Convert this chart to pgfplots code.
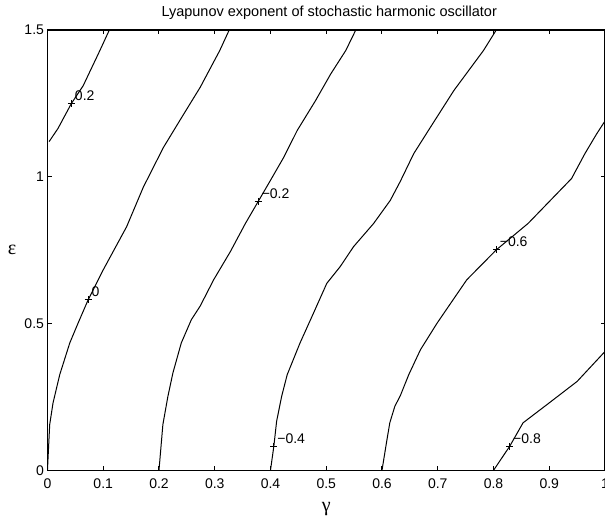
\documentclass[border=0pt]{standalone}
\usepackage{pgfplots}
\pgfplotsset{compat=1.18}
\usepackage{fontspec}
\setmainfont{Liberation Sans}
\newfontfamily\greekfont{Liberation Serif}

\begin{document}
\begin{tikzpicture}
\begin{axis}[
    scale only axis,
    width=557.9pt,
    height=440.7pt,
    xmin=0, xmax=1,
    ymin=0, ymax=1.5,
    xtick={0,0.1,0.2,0.3,0.4,0.5,0.6,0.7,0.8,0.9,1},
    xticklabels={0,0.1,0.2,0.3,0.4,0.5,0.6,0.7,0.8,0.9,1},
    ytick={0,0.5,1,1.5},
    yticklabels={0,0.5,1,1.5},
    tick label style={font=\fontsize{14}{16}\selectfont},
    xticklabel style={yshift=-5pt},
    major tick length=4.5pt,
    axis line style={line width=1.4pt},
    tick style={line width=1pt, black},
    title={Lyapunov exponent of stochastic harmonic oscillator},
    title style={font=\fontsize{14.5}{17}\selectfont,
        at={(axis description cs:0.5,1)}, anchor=base, yshift=7pt, xshift=3pt},
    xlabel={\greekfont γ},
    ylabel={\greekfont ε},
    every axis x label/.style={at={(axis description cs:0.5,0)}, anchor=base,
        yshift=-41pt, font=\fontsize{20}{22}\selectfont},
    every axis y label/.style={at={(axis description cs:0,0.5)}, anchor=center,
        xshift=-35.5pt, font=\fontsize{20}{22}\selectfont},
]
% contour 0.2
\addplot[black, line width=1pt] coordinates {
    (0.003,1.12) (0.019,1.165) (0.043,1.25) (0.064,1.31) (0.094,1.43) (0.111,1.5)};
% contour 0
\addplot[black, line width=1pt] coordinates {
    (0,0) (0.002,0.08) (0.004,0.156) (0.010,0.23) (0.022,0.326) (0.040,0.434)
    (0.055,0.502) (0.073,0.581) (0.100,0.683) (0.142,0.83) (0.172,0.965)
    (0.208,1.10) (0.241,1.203) (0.274,1.305) (0.309,1.43) (0.326,1.5)};
% contour -0.2
\addplot[black, line width=1pt] coordinates {
    (0.200,0) (0.207,0.156) (0.216,0.252) (0.225,0.332) (0.240,0.434)
    (0.258,0.513) (0.274,0.56) (0.298,0.649) (0.328,0.745) (0.355,0.841)
    (0.378,0.916) (0.400,0.988) (0.424,1.067) (0.448,1.158) (0.481,1.26)
    (0.508,1.35) (0.535,1.43) (0.553,1.5)};
% contour -0.4
\addplot[black, line width=1pt] coordinates {
    (0.400,0) (0.406,0.082) (0.411,0.167) (0.420,0.252) (0.430,0.326)
    (0.453,0.434) (0.477,0.535) (0.501,0.637) (0.525,0.694) (0.549,0.762)
    (0.585,0.841) (0.615,0.92) (0.633,0.985) (0.657,1.079) (0.687,1.169)
    (0.729,1.294) (0.782,1.43) (0.805,1.5)};
% contour -0.6
\addplot[black, line width=1pt] coordinates {
    (0.600,0) (0.608,0.094) (0.614,0.162) (0.623,0.218) (0.633,0.255)
    (0.648,0.326) (0.669,0.411) (0.699,0.502) (0.752,0.649) (0.805,0.751)
    (0.862,0.841) (0.940,0.994) (0.964,1.079) (0.985,1.146) (1.0,1.19)};
% contour -0.8
\addplot[black, line width=1pt] coordinates {
    (0.800,0) (0.829,0.082) (0.853,0.162) (0.900,0.23) (0.950,0.303) (1.0,0.405)};
% contour labels
\addplot[only marks, mark=+, mark size=3.5pt, black,
    mark options={line width=1.1pt},
    point meta=explicit symbolic, nodes near coords,
    every node near coord/.append style={anchor=south west, inner sep=0pt,
        xshift=3pt, yshift=2.5pt, font=\fontsize{14}{16}\selectfont}]
    coordinates {
    (0.043,1.25) [0.2]
    (0.073,0.581) [0]
    (0.378,0.916) [−0.2]
    (0.406,0.082) [−0.4]
    (0.805,0.751) [−0.6]
    (0.829,0.082) [−0.8]};
\end{axis}
\pgfresetboundingbox
\path ([shift={(-47.5pt,-46.3pt)}]current axis.south west)
    rectangle ([shift={(0pt,30pt)}]current axis.north east);
\end{tikzpicture}
\end{document}
